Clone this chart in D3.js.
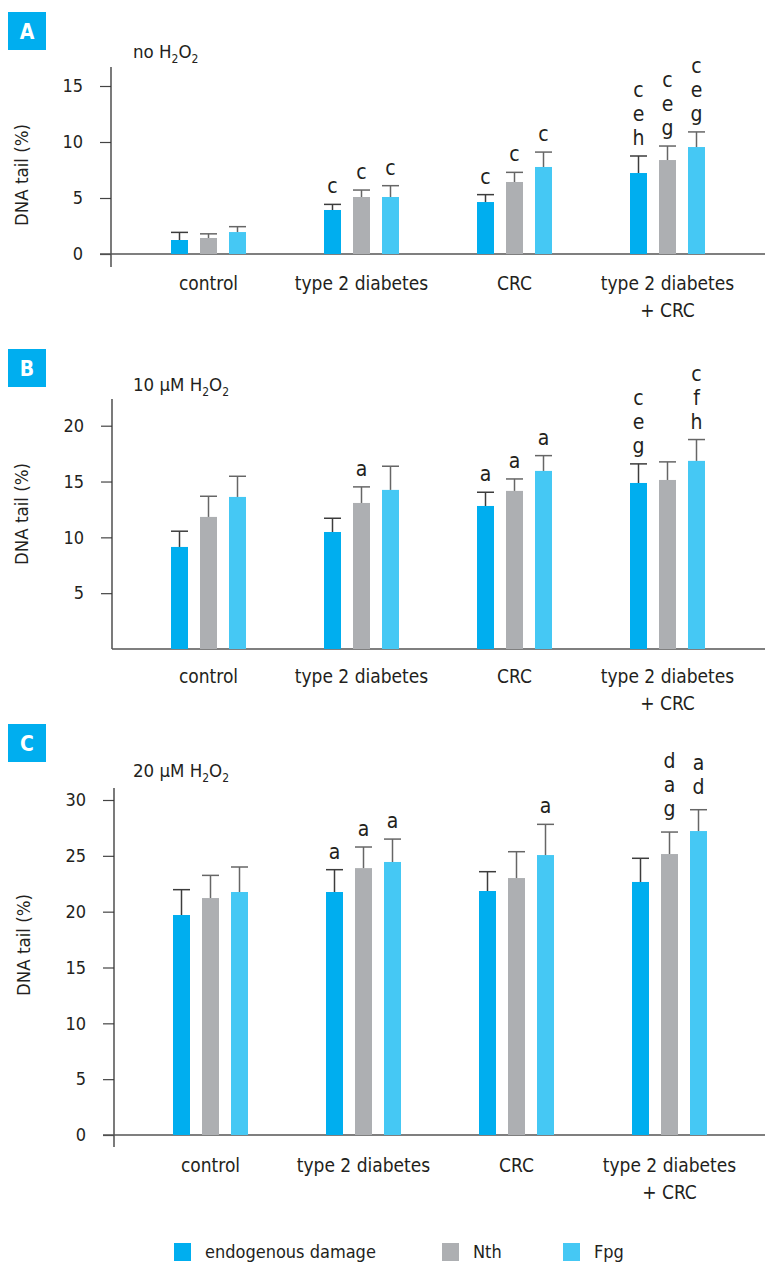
<!DOCTYPE html>
<html><head><meta charset="utf-8">
<script src="https://cdn.jsdelivr.net/npm/d3@7"></script>
<style>
html,body{margin:0;padding:0;background:#fff;}
svg{display:block;font-family:"DejaVu Sans Condensed","DejaVu Sans",sans-serif;font-stretch:condensed;}
</style></head>
<body>
<svg id="chart" width="765" height="1263"></svg>
<script>
// ---------- data ----------
const categories = ["control", "type 2 diabetes", "CRC", "type 2 diabetes\n+ CRC"];
const series = ["endogenous damage", "Nth", "Fpg"];

const meansA = [[1.25, 1.43, 1.96], [3.93, 5.09, 5.09], [4.64, 6.43, 7.77], [7.23, 8.39, 9.55]];
const errA   = [[0.68, 0.37, 0.48], [0.50, 0.62, 1.01], [0.66, 0.86, 1.33], [1.52, 1.25, 1.35]];
const lettersA = [[[], [], []], [["c"], ["c"], ["c"]], [["c"], ["c"], ["c"]], [["c","e","h"], ["c","e","g"], ["c","e","g"]]];
const ticksA = [0, 5, 10, 15];

const meansB = [[9.14, 11.83, 13.62], [10.48, 13.08, 14.25], [12.81, 14.16, 15.95], [14.87, 15.14, 16.85]];
const errB   = [[1.41, 1.85, 1.85], [1.23, 1.44, 2.12], [1.23, 1.07, 1.37], [1.71, 1.62, 1.91]];
const lettersB = [[[], [], []], [[], ["a"], []], [["a"], ["a"], ["a"]], [["c","e","g"], [], ["c","f","h"]]];
const ticksB = [5, 10, 15, 20];

const meansC = [[19.70, 21.22, 21.76], [21.76, 23.90, 24.45], [21.85, 23.01, 25.07], [22.66, 25.16, 27.22]];
const errC   = [[2.27, 2.03, 2.24], [2.00, 1.89, 2.05], [1.73, 2.36, 2.75], [2.12, 1.97, 1.91]];
const lettersC = [[[], [], []], [["a"], ["a"], ["a"]], [[], [], ["a"]], [[], ["d","a","g"], ["a","d"]]];
const ticksC = [0, 5, 10, 15, 20, 25, 30];

// ---------- styles ----------
const colors = {"endogenous damage": "#00AEEF", "Nth": "#ADAFB2", "Fpg": "#45C8F4"};
const errColors = {"endogenous damage": "#3c3c3c", "Nth": "#666666", "Fpg": "#666666"};
const textColor = "#231F20";
const svg = d3.select("#chart");

function drawPanel(p) {
  const g = svg.append("g");
  const y = d3.scaleLinear().domain([0, p.ymax]).range([p.y0, p.yTop]);
  const x0 = d3.scaleBand().domain(categories).range([p.xL, p.xL + 153 * 4]).padding(0);
  const x1 = d3.scalePoint().domain(series).range([-29, 29]);
  const bw = 17;

  // panel label box
  g.append("rect").attr("x", 8).attr("y", p.boxY).attr("width", 38).attr("height", 38).attr("fill", "#00AEEF");
  g.append("text").attr("x", 27).attr("y", p.boxY + 20).attr("text-anchor", "middle")
    .attr("dominant-baseline", "central").attr("fill", "#fff").attr("font-weight", "bold")
    .attr("font-size", 21).text(p.label);

  // title with subscripts
  const t = g.append("text").attr("x", 133).attr("y", p.titleY).attr("fill", textColor).attr("font-size", 18.5);
  t.append("tspan").text(p.titlePre + "H");
  t.append("tspan").attr("font-size", 12).attr("dy", 5).text("2");
  t.append("tspan").attr("dy", -5).text("O");
  t.append("tspan").attr("font-size", 12).attr("dy", 5).text("2");

  // y axis
  const yAxis = d3.axisLeft(y).tickValues(p.ticks).tickSize(11).tickPadding(17).tickFormat(d3.format("d"));
  const ga = g.append("g").attr("transform", `translate(${p.axisX},0)`).call(yAxis);
  ga.select(".domain").remove();
  ga.selectAll(".tick line").attr("stroke", "#444").attr("stroke-width", 1.2);
  ga.selectAll(".tick text").attr("font-size", 18).attr("fill", textColor)
    .attr("font-family", "'DejaVu Sans Condensed','DejaVu Sans',sans-serif");
  g.append("line").attr("x1", p.axisX).attr("x2", p.axisX).attr("y1", p.axisTop).attr("y2", p.axisBottom)
    .attr("stroke", "#333").attr("stroke-width", 1.3);
  g.append("line").attr("x1", p.baseX).attr("x2", 765).attr("y1", y(0)).attr("y2", y(0))
    .attr("stroke", "#555").attr("stroke-width", 1.5);

  // y label
  g.append("text").attr("transform", `translate(${p.ylabX},${p.ylabY}) rotate(-90)`)
    .attr("text-anchor", "middle").attr("dominant-baseline", "central")
    .attr("font-size", 18.5).attr("fill", textColor).text("DNA tail (%)");

  const rows = [];
  categories.forEach((c, i) => series.forEach((s, j) => rows.push({c, s, m: p.means[i][j], e: p.err[i][j], l: p.letters[i][j]})));

  const cx = d => x0(d.c) + x0.bandwidth() / 2 + x1(d.s);

  g.selectAll(".bar").data(rows).join("rect")
    .attr("x", d => cx(d) - bw / 2).attr("width", bw)
    .attr("y", d => y(d.m)).attr("height", d => y(0) - y(d.m))
    .attr("fill", d => colors[d.s]);

  // error bars (upper)
  const eb = g.selectAll(".err").data(rows).join("g");
  eb.append("line").attr("x1", cx).attr("x2", cx).attr("y1", d => y(d.m)).attr("y2", d => y(d.m + d.e))
    .attr("stroke", d => errColors[d.s]).attr("stroke-width", 1.5);
  eb.append("line").attr("x1", d => cx(d) - bw / 2).attr("x2", d => cx(d) + bw / 2)
    .attr("y1", d => y(d.m + d.e)).attr("y2", d => y(d.m + d.e))
    .attr("stroke", d => errColors[d.s]).attr("stroke-width", 1.5);

  // significance letters
  rows.forEach(d => {
    const n = d.l.length;
    const lift = n > 1 ? p.stackLift : 0;
    d.l.forEach((ch, k) => {
      g.append("text").attr("x", cx(d)).attr("y", y(d.m + d.e) - 11 - lift - (n - 1 - k) * 24)
        .attr("text-anchor", "middle").attr("font-size", 21).attr("fill", textColor).text(ch);
    });
  });

  // category labels
  categories.forEach(c => {
    const lines = c.split("\n");
    lines.forEach((ln, k) => {
      g.append("text").attr("x", x0(c) + x0.bandwidth() / 2).attr("y", p.catY + k * 26.5)
        .attr("text-anchor", "middle").attr("font-size", 19).attr("fill", textColor).text(ln);
    });
  });
}

drawPanel({label: "A", boxY: 12, titlePre: "no ", titleY: 58, means: meansA, err: errA, letters: lettersA, ticks: ticksA,
  ymax: 15, y0: 254, yTop: 86, xL: 132, axisX: 111, axisTop: 67, axisBottom: 267, baseX: 100,
  ylabX: 21, ylabY: 175, catY: 290, stackLift: 0});
drawPanel({label: "B", boxY: 349, titlePre: "10 \u00B5M ", titleY: 391, means: meansB, err: errB, letters: lettersB, ticks: ticksB,
  ymax: 20, y0: 649, yTop: 425.7, xL: 132, axisX: 112, axisTop: 399, axisBottom: 649, baseX: 112,
  ylabX: 21, ylabY: 514, catY: 683, stackLift: 0});
drawPanel({label: "C", boxY: 724, titlePre: "20 \u00B5M ", titleY: 777, means: meansC, err: errC, letters: lettersC, ticks: ticksC,
  ymax: 30, y0: 1135, yTop: 800, xL: 134, axisX: 114, axisTop: 788, axisBottom: 1147, baseX: 103,
  ylabX: 23, ylabY: 945, catY: 1172, stackLift: 5});

// legend
const legX = [174, 442, 563];
const lg = svg.append("g");
series.forEach((s, i) => {
  lg.append("rect").attr("x", legX[i]).attr("y", 1243).attr("width", 17).attr("height", 18).attr("fill", colors[s]);
  lg.append("text").attr("x", legX[i] + 31).attr("y", 1258).attr("font-size", 18).attr("fill", textColor).text(s);
});
</script>
</body></html>
